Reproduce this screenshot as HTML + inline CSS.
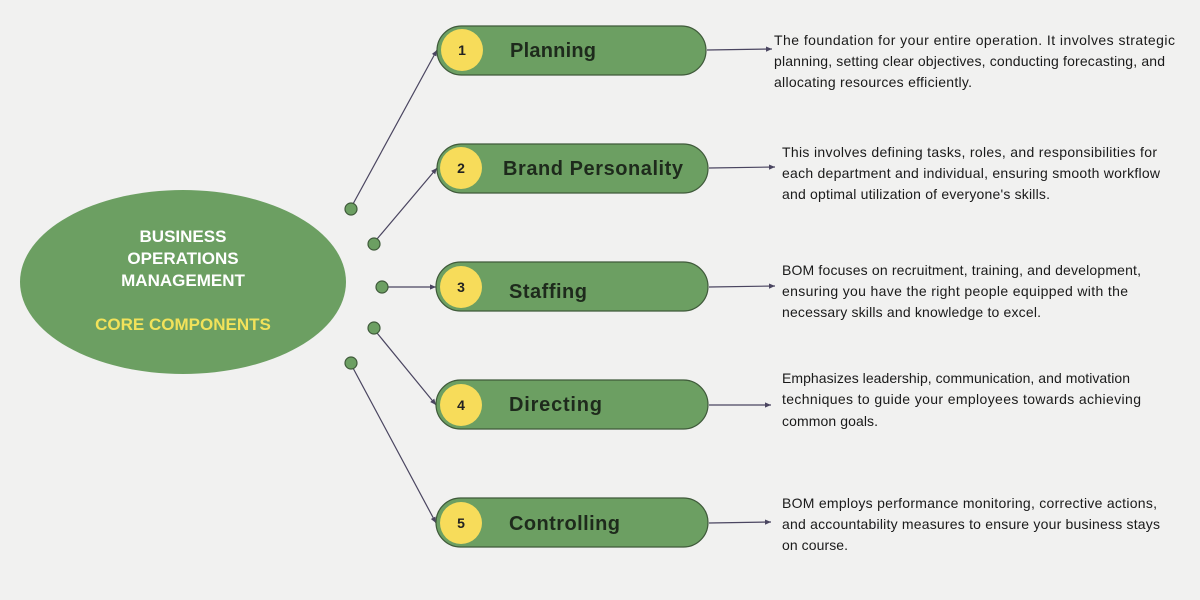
<!DOCTYPE html>
<html><head><meta charset="utf-8"><style>
html,body{margin:0;padding:0;background:#f1f1f0;}
svg{display:block}
.t{font-family:"Liberation Sans",sans-serif;font-size:14px;fill:#1a1a1a}
.p{font-family:"Liberation Sans",sans-serif;font-size:20px;font-weight:bold;fill:#1e2a1c}
.n{font-family:"Liberation Sans",sans-serif;font-size:14px;font-weight:bold;fill:#222}
</style></head><body>
<svg width="1200" height="600" viewBox="0 0 1200 600" xmlns="http://www.w3.org/2000/svg">
<defs><marker id="a" markerWidth="6" markerHeight="6" refX="5" refY="3" orient="auto"><path d="M0,0.8 L5,3 L0,5.2z" fill="#4a4560"/></marker></defs>
<rect width="1200" height="600" fill="#f1f1f0"/>
<ellipse cx="183" cy="282" rx="163" ry="92" fill="#6c9f62"/>
<g font-family="Liberation Sans,sans-serif" font-weight="bold" font-size="17" text-anchor="middle">
<text x="183" y="242" fill="#fff">BUSINESS</text>
<text x="183" y="264" fill="#fff">OPERATIONS</text>
<text x="183" y="286" fill="#fff">MANAGEMENT</text>
<text x="183" y="330" fill="#f2e25a">CORE COMPONENTS</text>
</g>
<g stroke="#4a4560" stroke-width="1.2" fill="none" marker-end="url(#a)">
<line x1="353" y1="204" x2="437" y2="50"/>
<line x1="377" y1="239" x2="437" y2="168"/>
<line x1="388" y1="287" x2="436" y2="287"/>
<line x1="377" y1="333" x2="436" y2="405"/>
<line x1="353" y1="368" x2="436" y2="523"/>
<line x1="707" y1="50" x2="772" y2="49"/>
<line x1="709" y1="168" x2="775" y2="167"/>
<line x1="709" y1="287" x2="775" y2="286"/>
<line x1="709" y1="405" x2="771" y2="405"/>
<line x1="709" y1="523" x2="771" y2="522"/>
</g>
<g fill="#6c9f62" stroke="#3f5a3a" stroke-width="1.2">
<circle cx="351" cy="209" r="6"/><circle cx="374" cy="244" r="6"/><circle cx="382" cy="287" r="6"/><circle cx="374" cy="328" r="6"/><circle cx="351" cy="363" r="6"/>
<rect x="437" y="26" width="269" height="49" rx="24.5"/>
<rect x="437" y="144" width="271" height="49" rx="24.5"/>
<rect x="436" y="262" width="272" height="49" rx="24.5"/>
<rect x="436" y="380" width="272" height="49" rx="24.5"/>
<rect x="436" y="498" width="272" height="49" rx="24.5"/>
</g>
<g fill="#f7dc5a">
<circle cx="462" cy="50" r="21"/><circle cx="461" cy="168" r="21"/><circle cx="461" cy="287" r="21"/><circle cx="461" cy="405" r="21"/><circle cx="461" cy="523" r="21"/>
</g>
<g class="n" text-anchor="middle">
<text class="n" x="462" y="55">1</text><text class="n" x="461" y="173">2</text><text class="n" x="461" y="292">3</text><text class="n" x="461" y="410">4</text><text class="n" x="461" y="528">5</text>
</g>
<text class="p" x="510" y="57" textLength="86">Planning</text>
<text class="p" x="503" y="175" textLength="180">Brand Personality</text>
<text class="p" x="509" y="298" textLength="78">Staffing</text>
<text class="p" x="509" y="411" textLength="93">Directing</text>
<text class="p" x="509" y="530" textLength="111">Controlling</text>
<g class="t" lengthAdjust="spacingAndGlyphs">
<text class="t" x="774" y="45" textLength="401">The foundation for your entire operation. It involves strategic</text>
<text class="t" x="774" y="66" textLength="391">planning, setting clear objectives, conducting forecasting, and</text>
<text class="t" x="774" y="87" textLength="198">allocating resources efficiently.</text>
<text class="t" x="782" y="157" textLength="375">This involves defining tasks, roles, and responsibilities for</text>
<text class="t" x="782" y="178" textLength="378">each department and individual, ensuring smooth workflow</text>
<text class="t" x="782" y="199" textLength="268">and optimal utilization of everyone's skills.</text>
<text class="t" x="782" y="275" textLength="359">BOM focuses on recruitment, training, and development,</text>
<text class="t" x="782" y="296" textLength="346">ensuring you have the right people equipped with the</text>
<text class="t" x="782" y="317" textLength="259">necessary skills and knowledge to excel.</text>
<text class="t" x="782" y="383" textLength="348">Emphasizes leadership, communication, and motivation</text>
<text class="t" x="782" y="404" textLength="359">techniques to guide your employees towards achieving</text>
<text class="t" x="782" y="426" textLength="96">common goals.</text>
<text class="t" x="782" y="508" textLength="375">BOM employs performance monitoring, corrective actions,</text>
<text class="t" x="782" y="529" textLength="378">and accountability measures to ensure your business stays</text>
<text class="t" x="782" y="550" textLength="66">on course.</text>
</g>
</svg>
</body></html>
